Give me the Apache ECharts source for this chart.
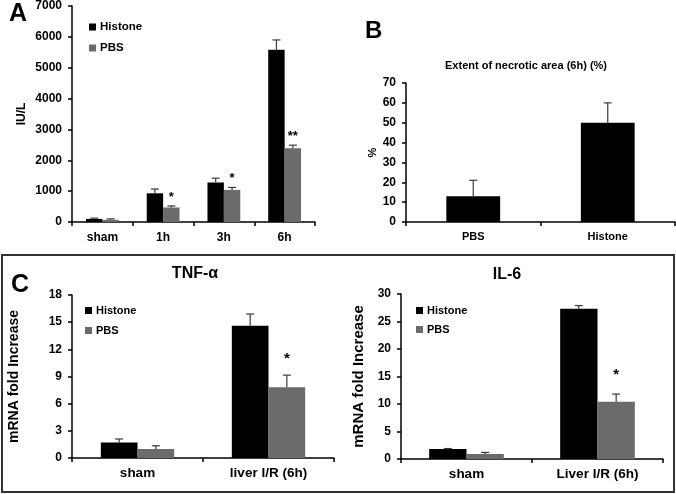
<!DOCTYPE html>
<html><head><meta charset="utf-8">
<script src="https://cdn.jsdelivr.net/npm/echarts@6/dist/echarts.min.js"></script>
<style>html,body{margin:0;padding:0;background:#fff}#c{width:676px;height:494px}</style>
</head><body><div id="c"></div>
<script>
// Panel A: serum ALT
const catsA = ['sham', '1h', '3h', '6h'];
const histA = [100, 930, 1280, 5580];
const histAErr = [25, 140, 140, 320];
const pbsA = [70, 470, 1040, 2390];
const pbsAErr = [30, 50, 80, 100];
const sigA = ['', '*', '*', '**'];
const ticksA = [0, 7000, 1000];

// Panel B: necrotic area
const catsB = ['PBS', 'Histone'];
const necB = [13, 50];
const necBErr = [8, 10];

// Panel C: TNF-α
const catsTNF = ['sham', 'liver I/R (6h)'];
const histTNF = [1.7, 14.6];
const histTNFErr = [0.4, 1.3];
const pbsTNF = [1.0, 7.8];
const pbsTNFErr = [0.35, 1.35];
const sigTNF = ['', '*'];

// Panel C: IL-6
const catsIL6 = ['sham', 'Liver I/R (6h)'];
const histIL6 = [1.8, 27.3];
const histIL6Err = [0.1, 0.6];
const pbsIL6 = [0.9, 10.4];
const pbsIL6Err = [0.3, 1.4];
const sigIL6 = ['', '*'];

const FONT = '"Liberation Sans", Arial, sans-serif';
const BLACK = '#000000';
const GRAY = '#6b6b6b';

function errSeries(id, ai, vals, errs, sig, offsetFrac, starGap, starSize) {
  return {
    type: 'custom', name: id, xAxisIndex: ai, yAxisIndex: ai, z: 5, silent: true,
    data: vals.map((v, i) => [i, v, v + errs[i]]),
    encode: { x: 0, y: [1, 2] },
    renderItem: function (params, api) {
      const i = api.value(0);
      const base = api.coord([i, api.value(1)]);
      const top = api.coord([i, api.value(2)]);
      const bw = api.size([1, 0])[0];
      const x = base[0] + offsetFrac * bw;
      const cap = 4;
      const st = { stroke: '#3a3a3a', lineWidth: 1.2 };
      const children = [
        { type: 'line', shape: { x1: x, y1: base[1], x2: x, y2: top[1] }, style: st },
        { type: 'line', shape: { x1: x - cap, y1: top[1], x2: x + cap, y2: top[1] }, style: st }
      ];
      const s = sig ? sig[i] : '';
      if (s) {
        children.push({ type: 'text', style: { text: s, x: x, y: top[1] - starGap, align: 'center', verticalAlign: 'middle', font: 'bold ' + starSize + 'px ' + FONT, fill: '#000' } });
      }
      return { type: 'group', children: children };
    }
  };
}

function xAx(gi, cats, fs, margin) {
  return {
    type: 'category', gridIndex: gi, data: cats,
    axisLine: { lineStyle: { color: '#000', width: 1.5 } },
    axisTick: { show: true, length: 4, lineStyle: { color: '#000', width: 1.5 } },
    axisLabel: { color: '#000', fontWeight: 'bold', fontSize: fs, fontFamily: FONT, margin: margin }
  };
}
function yAx(gi, max, interval, name, nameFs, nameGap, fs) {
  return {
    type: 'value', gridIndex: gi, min: 0, max: max, interval: interval,
    name: name, nameLocation: 'middle', nameGap: nameGap, nameRotate: 90,
    nameTextStyle: { color: '#000', fontWeight: 'bold', fontSize: nameFs, fontFamily: FONT },
    splitLine: { show: false },
    axisLine: { show: true, lineStyle: { color: '#000', width: 1.5 } },
    axisTick: { show: true, length: 4, lineStyle: { color: '#000', width: 1.5 } },
    axisLabel: { color: '#000', fontWeight: 'bold', fontSize: fs, fontFamily: FONT, margin: 10, formatter: (v) => String(v) }
  };
}
function barS(name, ai, data, color, bw) {
  return { type: 'bar', name: name, xAxisIndex: ai, yAxisIndex: ai, data: data, barWidth: bw, barGap: '0%', itemStyle: { color: color }, z: 3, silent: true };
}
function legendAt(left, top, fs, gap) {
  return {
    data: ['Histone', 'PBS'], orient: 'vertical', left: left, top: top, icon: 'rect',
    itemWidth: 7, itemHeight: 7, itemGap: gap, selectedMode: false,
    textStyle: { color: '#000', fontWeight: 'bold', fontSize: fs, fontFamily: FONT, padding: [0, 0, 0, -1] }
  };
}

const chart = echarts.init(document.getElementById('c'), null, { renderer: 'canvas' });
chart.setOption({
  animation: false,
  backgroundColor: '#fff',
  title: [
    { text: 'A', left: 4, top: -3, textStyle: { fontSize: 25, fontWeight: 'bold', fontFamily: FONT, color: '#000' } },
    { text: 'B', left: 360, top: 14, textStyle: { fontSize: 24, fontWeight: 'bold', fontFamily: FONT, color: '#000' } },
    { text: 'Extent of necrotic area (6h) (%)', left: 521, textAlign: 'center', top: 55, textStyle: { fontSize: 11, fontWeight: 'bold', fontFamily: FONT, color: '#000' } },
    { text: 'C', left: 6, top: 268, textStyle: { fontSize: 25, fontWeight: 'bold', fontFamily: FONT, color: '#000' } },
    { text: 'TNF-α', left: 190, textAlign: 'center', top: 261, textStyle: { fontSize: 16, fontWeight: 'bold', fontFamily: FONT, color: '#000' } },
    { text: 'IL-6', left: 502, textAlign: 'center', top: 262, textStyle: { fontSize: 16, fontWeight: 'bold', fontFamily: FONT, color: '#000' } }
  ],
  graphic: [
    { type: 'rect', shape: { x: 2, y: 255, width: 672, height: 237 }, style: { fill: 'none', stroke: '#333', lineWidth: 2 }, z: 100 }
  ],
  legend: [
    legendAt(84, 16, 11.5, 9),
    legendAt(80, 300, 11, 9),
    legendAt(411, 300, 11, 8)
  ],
  grid: [
    { left: 72, top: 6, width: 243, height: 216 },
    { left: 406, top: 83, width: 269, height: 139 },
    { left: 72, top: 295, width: 262, height: 163 },
    { left: 401, top: 294, width: 262, height: 165 }
  ],
  xAxis: [
    xAx(0, catsA, 12, 10),
    xAx(1, catsB, 11, 9),
    xAx(2, catsTNF, 13.5, 8),
    xAx(3, catsIL6, 13.5, 8)
  ],
  yAxis: [
    yAx(0, ticksA[1], ticksA[2], 'IU/L', 12, 44, 12),
    yAx(1, 70, 10, '%', 11, 23, 12),
    yAx(2, 18, 3, 'mRNA fold Increase', 14, 51, 12),
    yAx(3, 30, 5, 'mRNA fold Increase', 15, 35, 12)
  ],
  series: [
    barS('Histone', 0, histA, BLACK, '27%'),
    barS('PBS', 0, pbsA, GRAY, '27%'),
    errSeries('eA1', 0, histA, histAErr, null, -0.135, 0, 13),
    errSeries('eA2', 0, pbsA, pbsAErr, sigA, 0.135, 9, 13),

    barS('Necrotic', 1, necB, BLACK, '40%'),
    errSeries('eB', 1, necB, necBErr, null, 0, 0, 13),

    barS('Histone', 2, histTNF, BLACK, '28%'),
    barS('PBS', 2, pbsTNF, GRAY, '28%'),
    errSeries('eT1', 2, histTNF, histTNFErr, null, -0.14, 0, 15),
    errSeries('eT2', 2, pbsTNF, pbsTNFErr, sigTNF, 0.14, 16, 15),

    barS('Histone', 3, histIL6, BLACK, '28.5%'),
    barS('PBS', 3, pbsIL6, GRAY, '28.5%'),
    errSeries('eI1', 3, histIL6, histIL6Err, null, -0.1425, 0, 15),
    errSeries('eI2', 3, pbsIL6, pbsIL6Err, sigIL6, 0.1425, 19, 15)
  ]
});
</script>
</body></html>
